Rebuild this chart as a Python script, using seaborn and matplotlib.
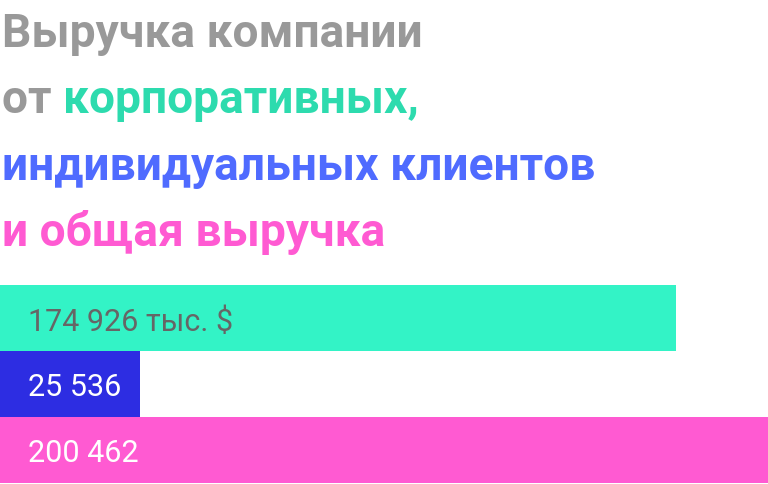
import matplotlib
matplotlib.use("Agg")
import matplotlib.pyplot as plt
import seaborn as sns
import pandas as pd
from matplotlib.transforms import blended_transform_factory

# ---- data ----
categories = ["корпоративные", "индивидуальные", "общая"]
values = [174926, 25536, 200462]
labels = ["174 926 тыс. $", "25 536", "200 462"]
bar_colors = ["#33F3C6", "#2D2DE2", "#FF5AD2"]
label_colors = ["#666666", "#FFFFFF", "#FFFFFF"]

title_parts = [
    [("Выручка компании", "#999999")],
    [("от ", "#999999"), ("корпоративных,", "#2DDBAE")],
    [("индивидуальных клиентов", "#4F6BFF")],
    [("и общая выручка", "#FF5AD2")],
]

sns.set_theme(style="white")
plt.rcParams["font.family"] = ["Roboto", "DejaVu Sans"]

W, H = 768, 485
fig = plt.figure(figsize=(W / 100, H / 100), dpi=100)
fig.patch.set_facecolor("white")

ax = fig.add_axes([0, 1 / H, 1, (484 - 286) / H])
df = pd.DataFrame({"cat": categories, "val": values})
sns.barplot(data=df, y="cat", x="val", hue="cat", palette=bar_colors,
            orient="h", width=1.0, legend=False, ax=ax, saturation=1)

# axis baseline slightly left of zero (designer layout)
x0 = -13460
for p in ax.patches:
    w = p.get_width()
    p.set_x(x0)
    p.set_width(w - x0)
    p.set_edgecolor("none")
ax.set_xlim(x0, max(values))
ax.set_ylim(2.5, -0.5)
ax.axis("off")

trans = blended_transform_factory(ax.transAxes, ax.transData)
for i, (lab, c) in enumerate(zip(labels, label_colors)):
    ax.text(28 / W, i, lab, transform=trans, color=c, fontsize=22,
            va="center_baseline", ha="left", fontfamily=["Roboto", "DejaVu Sans"])

# ---- title ----
baselines = [47, 113, 180, 246.5]
renderer = fig.canvas.get_renderer()
for parts, yb in zip(title_parts, baselines):
    xpix = 2
    for txt, col in parts:
        t = fig.text(xpix / W, 1 - yb / H, txt, color=col, fontsize=33.2,
                     fontweight="bold", va="baseline", ha="left",
                     fontfamily=["Roboto", "DejaVu Sans"])
        bb = t.get_window_extent(renderer=renderer)
        xpix = bb.x1

fig.savefig("out.png", dpi=100, facecolor="white")
